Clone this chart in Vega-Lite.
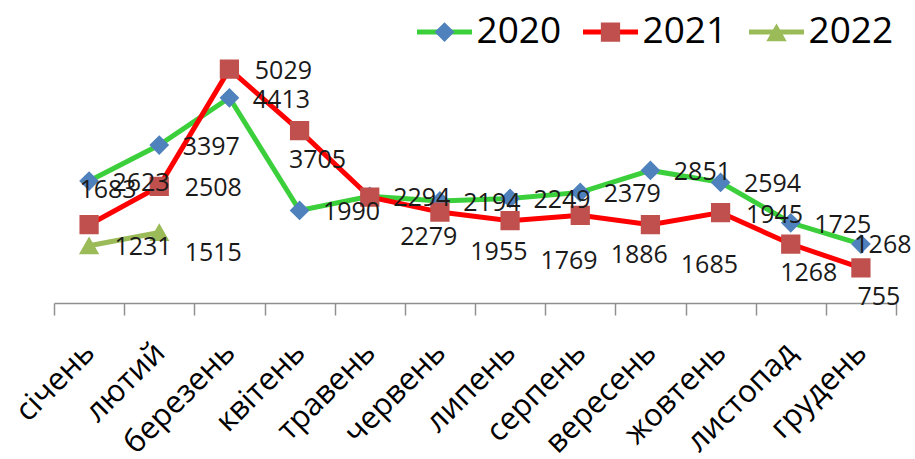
{
  "$schema": "https://vega.github.io/schema/vega-lite/v6.json",
  "autosize": {"type": "none"},
  "width": 842,
  "height": 279,
  "padding": {"left": 54, "top": 24, "right": 19, "bottom": 156},
  "background": "white",
  "config": {
    "view": {"stroke": null},
    "font": "Open Sans"
  },
  "data": {
    "values": [
      {"month": "січень", "year": "2020", "value": 2623},
      {"month": "лютий", "year": "2020", "value": 3397},
      {"month": "березень", "year": "2020", "value": 4413},
      {"month": "квітень", "year": "2020", "value": 1990},
      {"month": "травень", "year": "2020", "value": 2294},
      {"month": "червень", "year": "2020", "value": 2194},
      {"month": "липень", "year": "2020", "value": 2249},
      {"month": "серпень", "year": "2020", "value": 2379},
      {"month": "вересень", "year": "2020", "value": 2851},
      {"month": "жовтень", "year": "2020", "value": 2594},
      {"month": "листопад", "year": "2020", "value": 1725},
      {"month": "грудень", "year": "2020", "value": 1268},
      {"month": "січень", "year": "2021", "value": 1683},
      {"month": "лютий", "year": "2021", "value": 2508},
      {"month": "березень", "year": "2021", "value": 5029},
      {"month": "квітень", "year": "2021", "value": 3705},
      {"month": "травень", "year": "2021", "value": 2279},
      {"month": "червень", "year": "2021", "value": 1955},
      {"month": "липень", "year": "2021", "value": 1769},
      {"month": "серпень", "year": "2021", "value": 1886},
      {"month": "вересень", "year": "2021", "value": 1685},
      {"month": "жовтень", "year": "2021", "value": 1945},
      {"month": "листопад", "year": "2021", "value": 1268},
      {"month": "грудень", "year": "2021", "value": 755},
      {"month": "січень", "year": "2022", "value": 1231},
      {"month": "лютий", "year": "2022", "value": 1515}
    ]
  },
  "encoding": {
    "x": {
      "field": "month",
      "type": "nominal",
      "sort": ["січень", "лютий", "березень", "квітень", "травень", "червень", "липень", "серпень", "вересень", "жовтень", "листопад", "грудень"],
      "scale": {"type": "band", "paddingInner": 0, "paddingOuter": 0},
      "axis": {
        "title": null,
        "labelAngle": -45,
        "labelFont": "Open Sans",
        "labelFontSize": 31,
        "labelColor": "black",
        "labelPadding": 22,
        "labelOffset": -10,
        "labelOverlap": false,
        "labelBound": false,
        "labelFlush": false,
        "tickBand": "extent",
        "tickSize": 12,
        "tickColor": "#909090",
        "tickWidth": 1.5,
        "domainColor": "#909090",
        "domainWidth": 1.5,
        "grid": false
      }
    },
    "y": {
      "field": "value",
      "type": "quantitative",
      "scale": {"domain": [0, 6000], "nice": false},
      "axis": null
    }
  },
  "layer": [
    {
      "mark": {"type": "line", "strokeWidth": 5},
      "encoding": {
        "stroke": {
          "field": "year",
          "type": "nominal",
          "scale": {"range": ["#3ccf3c", "#ff0000", "#9bbb59"]},
          "legend": {
            "orient": "none",
            "legendX": 360.5,
            "legendY": -22,
            "direction": "horizontal",
            "title": null,
            "padding": 0,
            "symbolType": "stroke",
            "symbolSize": 3025,
            "symbolStrokeWidth": 5,
            "labelFont": "Open Sans",
            "labelFontSize": 37,
            "labelColor": "black",
            "labelOffset": 2,
            "columnPadding": 11
          }
        }
      }
    },
    {
      "mark": {"type": "point", "filled": true, "size": 3025, "opacity": 1},
      "encoding": {
        "fill": {
          "field": "year",
          "type": "nominal",
          "scale": {"domain": ["2020", "2021", "2022"], "range": ["#4f81bd", "#c0504d", "#9bbb59"]},
          "legend": {
            "orient": "none",
            "legendX": 360.5,
            "legendY": -22,
            "direction": "horizontal",
            "title": null,
            "padding": 0,
            "symbolSize": 3025,
            "symbolStrokeWidth": 5,
            "symbolStrokeColor": "transparent",
            "symbolOpacity": 1,
            "labelFont": "Open Sans",
            "labelFontSize": 37,
            "labelColor": "transparent",
            "labelOffset": 2,
            "columnPadding": 11
          }
        },
        "shape": {
          "field": "year",
          "type": "nominal",
          "scale": {
            "domain": ["2020", "2021", "2022"],
            "range": ["M-1,0H1M0,-0.36L0.36,0L0,0.36L-0.36,0Z", "M-1,0H1M-0.35,-0.35H0.35V0.35H-0.35Z", "M-1,0H1M0,-0.34L0.37,0.31H-0.37Z"]
          },
          "legend": {
            "orient": "none",
            "legendX": 360.5,
            "legendY": -22,
            "direction": "horizontal",
            "title": null,
            "padding": 0,
            "symbolSize": 3025,
            "symbolStrokeWidth": 5,
            "symbolStrokeColor": "transparent",
            "labelFont": "Open Sans",
            "labelFontSize": 37,
            "labelColor": "transparent",
            "labelOffset": 2,
            "columnPadding": 11
          }
        }
      }
    },
    {
      "transform": [{"filter": {"and": [{"field": "year", "equal": "2020"}, {"not": {"field": "month", "equal": "грудень"}}]}}],
      "mark": {"type": "text", "font": "Open Sans", "fontSize": 25, "color": "#1a1a1a", "align": "center", "baseline": "middle", "dx": 52, "dy": 2},
      "encoding": {"text": {"field": "value", "type": "quantitative"}}
    },
    {
      "transform": [{"filter": {"and": [{"field": "year", "equal": "2020"}, {"field": "month", "equal": "грудень"}]}}],
      "mark": {"type": "text", "font": "Open Sans", "fontSize": 25, "color": "#1a1a1a", "align": "center", "baseline": "middle", "dx": 22, "dy": 1},
      "encoding": {"text": {"field": "value", "type": "quantitative"}}
    },
    {
      "transform": [{"filter": {"and": [{"field": "year", "equal": "2021"}, {"field": "month", "equal": "січень"}]}}],
      "mark": {"type": "text", "font": "Open Sans", "fontSize": 25, "color": "#1a1a1a", "align": "center", "baseline": "middle", "dx": 19, "dy": -35},
      "encoding": {"text": {"field": "value", "type": "quantitative"}}
    },
    {
      "transform": [{"filter": {"and": [{"field": "year", "equal": "2021"}, {"field": "month", "oneOf": ["лютий", "березень", "жовтень"]}]}}],
      "mark": {"type": "text", "font": "Open Sans", "fontSize": 25, "color": "#1a1a1a", "align": "center", "baseline": "middle", "dx": 54, "dy": 2},
      "encoding": {"text": {"field": "value", "type": "quantitative"}}
    },
    {
      "transform": [{"filter": {"and": [{"field": "year", "equal": "2021"}, {"field": "month", "oneOf": ["травень", "червень", "липень", "серпень", "вересень"]}]}}],
      "mark": {"type": "text", "font": "Open Sans", "fontSize": 25, "color": "#1a1a1a", "align": "center", "baseline": "middle", "dx": 59, "dy": 40},
      "encoding": {"text": {"field": "value", "type": "quantitative"}}
    },
    {
      "transform": [{"filter": {"and": [{"field": "year", "equal": "2021"}, {"field": "month", "oneOf": ["квітень", "листопад", "грудень"]}]}}],
      "mark": {"type": "text", "font": "Open Sans", "fontSize": 25, "color": "#1a1a1a", "align": "center", "baseline": "middle", "dx": 18, "dy": 29},
      "encoding": {"text": {"field": "value", "type": "quantitative"}}
    },
    {
      "transform": [{"filter": {"and": [{"field": "year", "equal": "2022"}, {"field": "month", "equal": "січень"}]}}],
      "mark": {"type": "text", "font": "Open Sans", "fontSize": 25, "color": "#1a1a1a", "align": "center", "baseline": "middle", "dx": 54, "dy": 1},
      "encoding": {"text": {"field": "value", "type": "quantitative"}}
    },
    {
      "transform": [{"filter": {"and": [{"field": "year", "equal": "2022"}, {"field": "month", "equal": "лютий"}]}}],
      "mark": {"type": "text", "font": "Open Sans", "fontSize": 25, "color": "#1a1a1a", "align": "center", "baseline": "middle", "dx": 54, "dy": 20},
      "encoding": {"text": {"field": "value", "type": "quantitative"}}
    }
  ]
}
